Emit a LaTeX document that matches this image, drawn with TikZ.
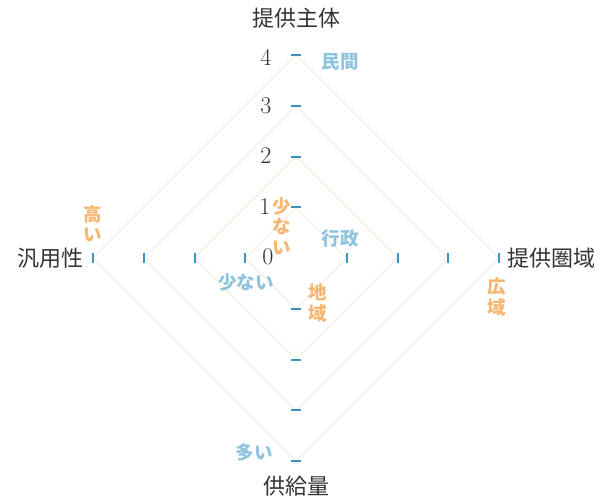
\documentclass[tikz,border=0pt]{standalone}
\usepackage{fontspec}
\usetikzlibrary{calc}
\newfontfamily\cjk{Noto Sans CJK JP}
\definecolor{tickblue}{HTML}{3B93C4}
\definecolor{lblue}{HTML}{8EC4DE}
\definecolor{lorange}{HTML}{F6B672}
\definecolor{gridc}{HTML}{F3F1E6}
\definecolor{txt}{HTML}{333333}
\tikzset{
  axlabel/.style={font=\fontsize{22}{24}\selectfont\cjk, text=txt, inner sep=0pt},
  numlabel/.style={font=\fontsize{24}{26}\selectfont, text=txt, inner sep=0pt},
  bluelbl/.style={font=\fontsize{18.5}{20}\selectfont\cjk\bfseries, text=lblue, inner sep=0pt},
  orglbl/.style={font=\fontsize{18.5}{20.5}\selectfont\cjk\bfseries, text=lorange, inner sep=0pt, align=center},
  gridline/.style={draw=gridc, line width=1.1pt},
  tickmark/.style={draw=tickblue, line width=2pt},
}
\begin{document}
\begin{tikzpicture}[x=1pt,y=-1pt]
\useasboundingbox (0,0) rectangle (602,498);
\def\u{50.75}
\coordinate (O) at (296,258);
% diamonds
\foreach \k in {1,2,3,4}{
  \draw[gridline] ($(O)+(0,-\k*\u)$) -- ($(O)+(\k*\u,0)$) -- ($(O)+(0,\k*\u)$) -- ($(O)+(-\k*\u,0)$) -- cycle;
}
% vertical axis ticks
\foreach \k in {-4,-3,-2,-1,1,2,3,4}{
  \draw[tickmark] ($(O)+(-5,\k*\u)$) -- ($(O)+(5,\k*\u)$);
}
% horizontal axis ticks
\foreach \k in {-4,-3,-2,-1,1,2,3,4}{
  \draw[tickmark] ($(O)+(\k*\u,-5)$) -- ($(O)+(\k*\u,5)$);
}
% axis labels
\node[axlabel] (top) at (296,18) {提供主体};
\node[axlabel] (bottom) at (296,486) {供給量};
\node[axlabel, anchor=east] (left) at (84,258) {汎用性};
\node[axlabel, anchor=west] (right) at (507,258) {提供圏域};
% numbers
\node[numlabel] (n4) at (266,57) {4};
\node[numlabel] (n3) at (266,106) {3};
\node[numlabel] (n2) at (266,156) {2};
\node[numlabel] (n1) at (265,207) {1};
\node[numlabel] (n0) at (268,257) {0};
% blue labels
\node[bluelbl] (minkan) at (340,62) {民間};
\node[bluelbl] (gyosei) at (340,238) {行政};
\node[bluelbl] (sukunaiB) at (246,283) {少ない};
\node[bluelbl] (ooi) at (254,452) {多い};
% orange labels
\node[orglbl] (sukunaiO) at (282,226) {少\\な\\い};
\node[orglbl] (takai) at (93,224) {高\\い};
\node[orglbl] (chiiki) at (318,303) {地\\域};
\node[orglbl] (koiki) at (497,297) {広\\域};
\end{tikzpicture}
\end{document}
